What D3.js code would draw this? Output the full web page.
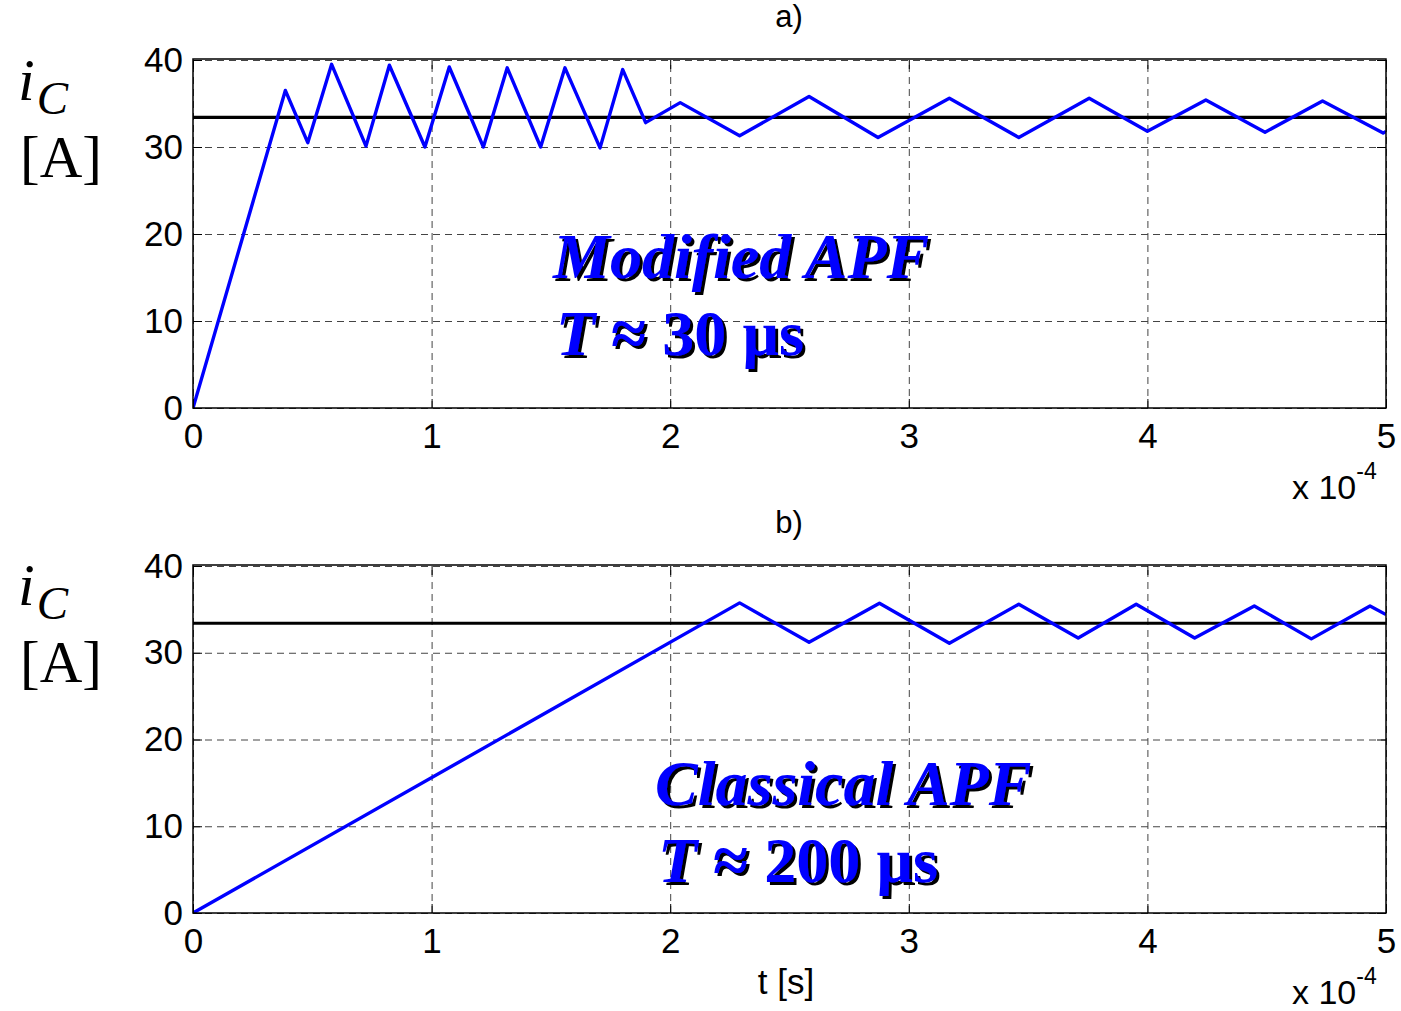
<!DOCTYPE html>
<html>
<head>
<meta charset="utf-8">
<script src="https://cdn.jsdelivr.net/npm/d3@7"></script>
<style>
  body { margin: 0; background: #fff; }
  svg { display: block; }
</style>
</head>
<body>
<svg id="chart" width="1401" height="1011"></svg>
<script>
// ---------- data ----------
const xTicks = [0, 1, 2, 3, 4, 5];          // time, x 10^-4 s
const yTicks = [0, 10, 20, 30, 40];         // current, A
const referenceLevel = 33.4;                // reference current, A

// Panel a) Modified APF
const timeA = [0, 0.387, 0.481, 0.581, 0.725, 0.823, 0.972, 1.074, 1.217, 1.317, 1.457, 1.559,
               1.706, 1.801, 1.897, 2.042, 2.291, 2.582, 2.871, 3.170, 3.461, 3.756, 4.000,
               4.245, 4.493, 4.734, 4.988, 5.0];
const currentA = [0, 36.5, 30.5, 39.5, 30.1, 39.4, 30.0, 39.2, 30.0, 39.1, 30.0, 39.1,
                  29.9, 38.9, 32.8, 35.1, 31.3, 35.8, 31.1, 35.6, 31.1, 35.6, 31.8,
                  35.4, 31.7, 35.3, 31.6, 31.8];

// Panel b) Classical APF
const timeB = [0, 2.291, 2.582, 2.877, 3.170, 3.461, 3.710, 3.953, 4.198, 4.448, 4.687, 4.933, 5.0];
const currentB = [0, 35.75, 31.2, 35.7, 31.1, 35.6, 31.7, 35.6, 31.7, 35.4, 31.6, 35.4, 34.4];

const panels = [
  { title: "a)", time: timeA, current: currentA, note: "Modified APF", period: "30", top: 60, bottom: 408,
    noteX: 553, noteY: 278, xlabel: null },
  { title: "b)", time: timeB, current: currentB, note: "Classical APF", period: "200", top: 566, bottom: 913,
    noteX: 655, noteY: 805, xlabel: "t [s]" }
];

// ---------- drawing ----------
const svg = d3.select("#chart");
const left = 193, right = 1386;
const sansFont = "'Liberation Sans', Arial, sans-serif";
const serifFont = "'Liberation Serif', 'Times New Roman', serif";

// drop shadow filter for annotations
const defs = svg.append("defs");
const f = defs.append("filter").attr("id", "shadow").attr("x", "-5%").attr("y", "-20%")
  .attr("width", "115%").attr("height", "150%");
f.append("feDropShadow").attr("dx", 3).attr("dy", 3).attr("stdDeviation", 0)
  .attr("flood-color", "#000").attr("flood-opacity", 1);

panels.forEach((p, i) => {
  const x = d3.scaleLinear().domain([0, 5]).range([left, right]);
  const y = d3.scaleLinear().domain([0, 40]).range([p.bottom, p.top]);
  const g = svg.append("g");
  const h = p.bottom - p.top, w = right - left;

  // grid
  const gx = g.append("g").attr("transform", `translate(0,${p.bottom})`)
    .call(d3.axisBottom(x).tickValues(xTicks).tickSize(-h).tickFormat(""));
  const gy = g.append("g").attr("transform", `translate(${left},0)`)
    .call(d3.axisLeft(y).tickValues(yTicks).tickSize(-w).tickFormat(""));
  [gx, gy].forEach(a => {
    a.select(".domain").remove();
    a.selectAll(".tick line").attr("stroke", "#444").attr("stroke-width", 1)
      .attr("stroke-dasharray", "7,5");
  });

  // clip
  const clipId = "clip" + i;
  defs.append("clipPath").attr("id", clipId).append("rect")
    .attr("x", left).attr("y", p.top - 2).attr("width", w).attr("height", h + 2);

  // reference line
  g.append("line").attr("clip-path", `url(#${clipId})`)
    .attr("x1", x(0)).attr("x2", x(5)).attr("y1", y(referenceLevel)).attr("y2", y(referenceLevel))
    .attr("stroke", "#000").attr("stroke-width", 3.2);

  // current waveform
  const pts = p.time.map((t, k) => [t, p.current[k]]);
  g.append("path").datum(pts).attr("clip-path", `url(#${clipId})`)
    .attr("fill", "none").attr("stroke", "#0000ff").attr("stroke-width", 3.4)
    .attr("stroke-linejoin", "round")
    .attr("d", d3.line().x(d => x(d[0])).y(d => y(d[1])));

  // axes with inward ticks
  const ax = g.append("g").attr("transform", `translate(0,${p.bottom})`)
    .call(d3.axisBottom(x).tickValues(xTicks).tickSize(-9).tickPadding(15).tickFormat(d3.format("d")));
  const ay = g.append("g").attr("transform", `translate(${left},0)`)
    .call(d3.axisLeft(y).tickValues(yTicks).tickSize(-9).tickPadding(10).tickFormat(d3.format("d")));
  const at = g.append("g").attr("transform", `translate(0,${p.top})`)
    .call(d3.axisTop(x).tickValues(xTicks).tickSize(-9).tickFormat(""));
  const ar = g.append("g").attr("transform", `translate(${right},0)`)
    .call(d3.axisRight(y).tickValues(yTicks).tickSize(-9).tickFormat(""));
  [ax, ay, at, ar].forEach(a => {
    a.select(".domain").remove();
    a.selectAll(".tick line").attr("stroke", "#000").attr("stroke-width", 1);
    a.selectAll("text").attr("font-family", sansFont).attr("font-size", 35).attr("fill", "#000");
  });

  // box
  g.append("rect").attr("x", left).attr("y", p.top - 1).attr("width", w).attr("height", h + 1)
    .attr("fill", "none").attr("stroke", "#000").attr("stroke-width", 1.5);

  // title
  g.append("text").attr("x", 789).attr("y", p.top - 33).attr("text-anchor", "middle")
    .attr("font-family", sansFont).attr("font-size", 31).text(p.title);

  // exponent label
  const ex = g.append("text").attr("x", 1292).attr("y", p.bottom + 91)
    .attr("font-family", sansFont).attr("font-size", 34);
  ex.append("tspan").text("x 10");
  ex.append("tspan").attr("dy", -20).attr("font-size", 23).text("-4");

  // x label
  if (p.xlabel) {
    g.append("text").attr("x", 786).attr("y", p.bottom + 81).attr("text-anchor", "middle")
      .attr("font-family", sansFont).attr("font-size", 35).text(p.xlabel);
  }

  // y label
  const off = p.bottom - 408;
  const yl = g.append("text").attr("x", 18).attr("y", 100 + off)
    .attr("font-family", serifFont).attr("font-size", 60).attr("font-style", "italic");
  yl.append("tspan").text("i");
  yl.append("tspan").attr("dy", 14).attr("dx", 2).attr("font-size", 47).text("C");
  g.append("text").attr("x", 20).attr("y", 177 + off)
    .attr("font-family", serifFont).attr("font-size", 59).text("[A]");

  // annotation with black drop shadow
  g.append("text").attr("x", p.noteX).attr("y", p.noteY).attr("filter", "url(#shadow)")
    .attr("font-family", serifFont).attr("font-size", 64).attr("font-weight", "bold")
    .attr("font-style", "italic").attr("fill", "#0000ff").text(p.note);
  const t2 = g.append("text").attr("x", p.noteX + 3).attr("y", p.noteY + 77).attr("filter", "url(#shadow)")
    .attr("font-family", serifFont).attr("font-size", 64).attr("font-weight", "bold").attr("fill", "#0000ff");
  t2.append("tspan").attr("font-style", "italic").text("T");
  t2.append("tspan").text(" \u2248 " + p.period + " \u00b5s");
});
</script>
</body>
</html>
